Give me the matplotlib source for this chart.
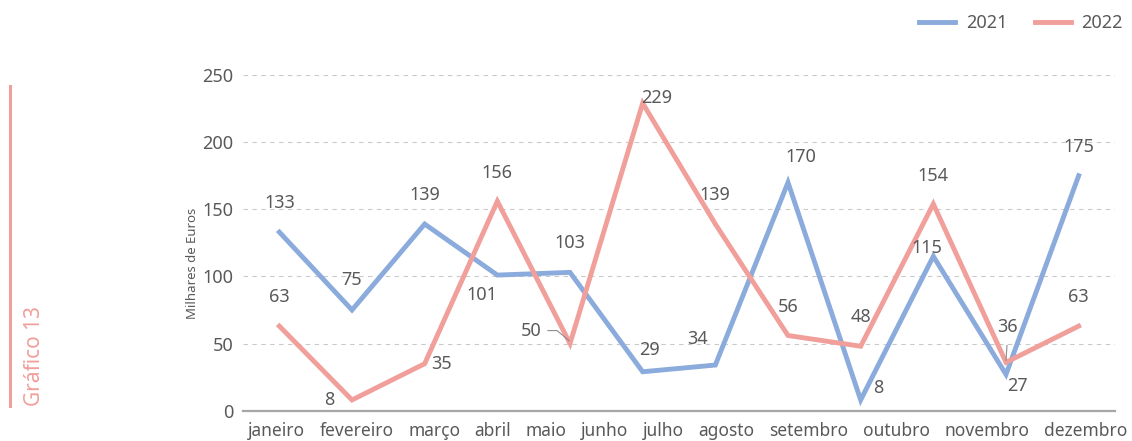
import matplotlib.pyplot as plt
import numpy as np
from matplotlib.transforms import IdentityTransform

plt.rcParams['font.family'] = ['Noto Sans', 'DejaVu Sans']

months = ["janeiro", "fevereiro", "março", "abril", "maio", "junho",
          "julho", "agosto", "setembro", "outubro", "novembro", "dezembro"]
vals_2021 = [133, 75, 139, 101, 103, 29, 34, 170, 8, 115, 27, 175]
vals_2022 = [63, 8, 35, 156, 50, 229, 139, 56, 48, 154, 36, 63]
yticks = [0, 50, 100, 150, 200, 250]

# label offsets in pixels (dx, dy), up is positive
off_2021 = [(0, 29), (0, 30), (0, 29), (-15, -20), (0, 29), (7, 22),
            (-18, 26), (13, 25), (18, 12), (-6, 8), (11, -12), (0, 29)]
off_2022 = [(0, 29), (-23, 0), (17, 0), (0, 28), (-39, 13), (14, 5),
            (0, 29), (0, 29), (0, 29), (0, 28), (2, 35), (0, 29)]

BLUE = "#8aabdb"
PINK = "#f19f9a"
GREY = "#595959"

W, H = 1132, 441
fig = plt.figure(figsize=(W / 100, H / 100), dpi=100)
ax = fig.add_axes([243 / W, 1 - 410.7 / H, 872 / W, 335.7 / H])

x = np.arange(len(months))
l1, = ax.plot(x, vals_2021, color=BLUE, lw=3.5, label="2021", solid_joinstyle="miter")
l2, = ax.plot(x, vals_2022, color=PINK, lw=3.5, label="2022", solid_joinstyle="miter")

ax.set_xlim(-0.5, len(months) - 0.5)
ax.set_ylim(0, 250)
ax.set_yticks(yticks)
ax.set_xticks([])
ax.tick_params(axis="y", length=0, pad=7, labelsize=13, labelcolor=GREY)
for s in ["top", "right", "left"]:
    ax.spines[s].set_visible(False)
ax.spines["bottom"].set_color("#a6a6a6")
ax.spines["bottom"].set_linewidth(1.6)
ax.spines["bottom"].set_zorder(1)
for yv in yticks[1:]:
    ax.axhline(yv, color="#c9c9c9", lw=0.8, ls=(0, (4, 4)), zorder=0)

for vals, offs in [(vals_2021, off_2021), (vals_2022, off_2022)]:
    for i, (v, (dx, dy)) in enumerate(zip(vals, offs)):
        ax.annotate(str(v), (i, v), xytext=(dx, dy), textcoords="offset pixels",
                    ha="center", va="center", fontsize=13, color=GREY)

# leader lines (pixel offsets from the data point, y downwards is negative)
def leader(i, v, path):
    px, py = ax.transData.transform((i, v))
    xs = [px + dx for dx, dy in path]
    ys = [py + dy for dx, dy in path]
    fig.lines.append(plt.Line2D(xs, ys, transform=IdentityTransform(),
                                color="#8c8c8c", lw=0.8))

leader(4, vals_2022[4], [(-22, 13), (-13, 13), (-1, 3)])
leader(10, vals_2022[10], [(1, 17), (0, 2)])

fig.text(193 / W, 1 - 263 / H, "Milhares de Euros", rotation=90, ha="center",
         va="center", fontsize=9.5, color=GREY)

# month labels spread evenly along the axis
texts = [fig.text(0, 1 - 431 / H, m, ha="left", va="center", fontsize=12.5,
                  color=GREY) for m in months]
fig.canvas.draw()
r = fig.canvas.get_renderer()
widths = [t.get_window_extent(r).width for t in texts]
left, right = 248, 1127
gap = (right - left - sum(widths)) / (len(texts) - 1)
pos = left
for t, w in zip(texts, widths):
    t.set_x(pos / W)
    pos += w + gap

fig.legend(handles=[l1, l2], loc="center right",
           bbox_to_anchor=(1123 / W, 1 - 23 / H), ncol=2, frameon=False,
           fontsize=13, labelcolor=GREY, handlelength=2.0, handletextpad=0.6,
           columnspacing=1.5, borderpad=0, borderaxespad=0)

fig.lines.append(plt.Line2D([10 / W, 10 / W], [1 - 86 / H, 1 - 406 / H],
                            transform=fig.transFigure, color=PINK, lw=2.2))
fig.text(35 / W, 1 - 406 / H, "Gráfico 13", rotation=90, ha="center",
         va="bottom", fontsize=15, color=PINK)

fig.savefig("out.png", dpi=100)
